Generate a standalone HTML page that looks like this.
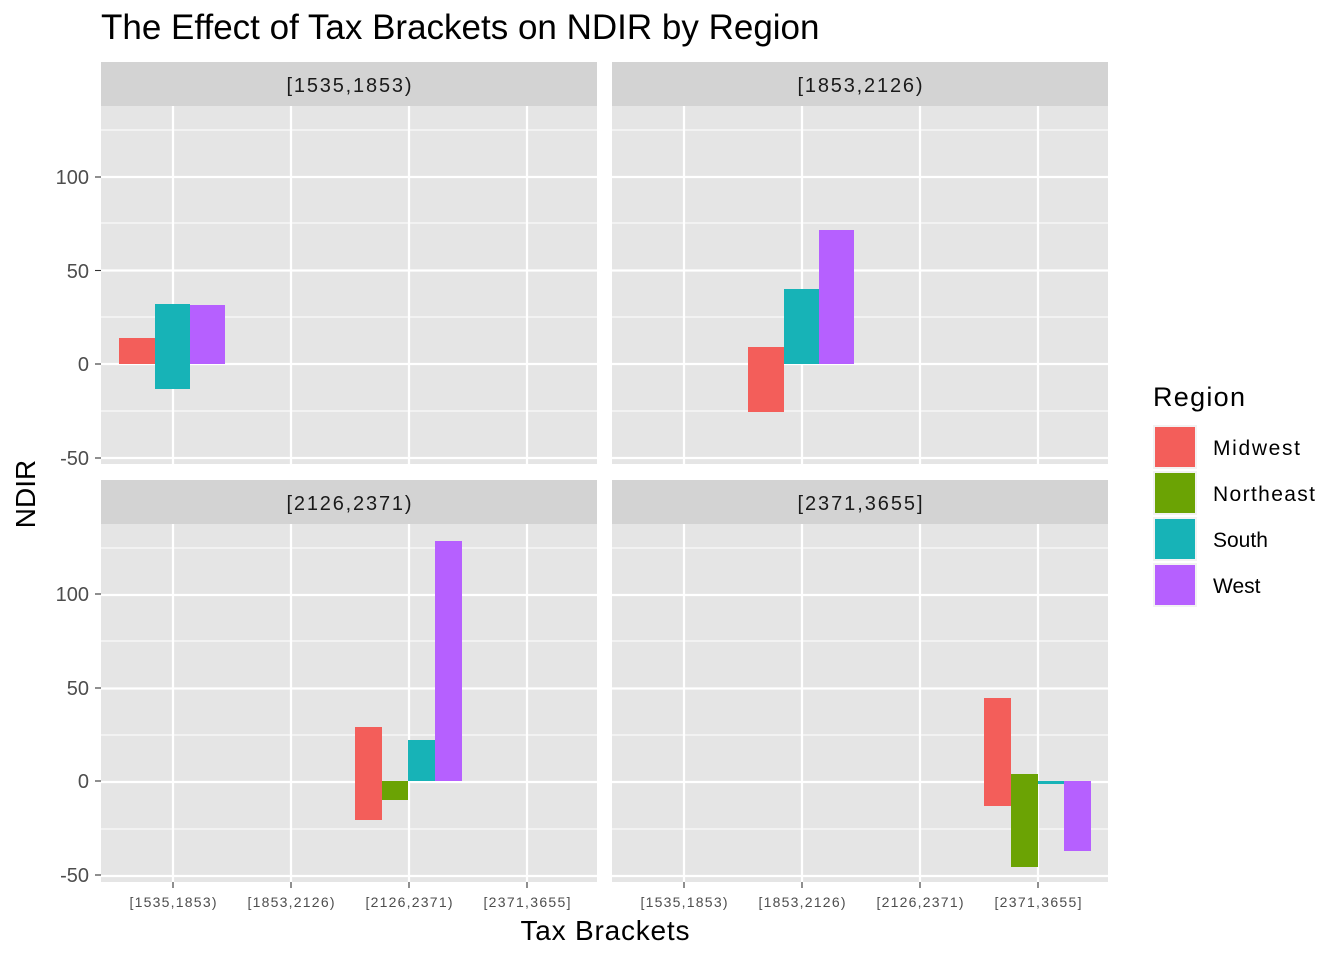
<!DOCTYPE html>
<html><head><style>body{margin:0;background:#fff}svg{display:block}text{font-family:"Liberation Sans",Arial,sans-serif}</style></head><body>
<svg width="1344" height="960" viewBox="0 0 1344 960" xmlns="http://www.w3.org/2000/svg">
<rect width="1344" height="960" fill="#fff"/>
<text x="101" y="39" font-size="35" fill="#000">The Effect of Tax Brackets on NDIR by Region</text>
<defs>
<g id="panel">
<rect x="0" y="44" width="496" height="358" fill="#E5E5E5"/>
<g stroke="#fff" stroke-width="1.1">
<line x1="0" x2="496" y1="68" y2="68"/><line x1="0" x2="496" y1="161" y2="161"/><line x1="0" x2="496" y1="255" y2="255"/><line x1="0" x2="496" y1="349" y2="349"/>
</g>
<g stroke="#fff" stroke-width="2.2">
<line x1="0" x2="496" y1="115" y2="115"/><line x1="0" x2="496" y1="208.5" y2="208.5"/><line x1="0" x2="496" y1="302" y2="302"/><line x1="0" x2="496" y1="396" y2="396"/>
<line x1="72" x2="72" y1="44" y2="402"/><line x1="190" x2="190" y1="44" y2="402"/><line x1="308" x2="308" y1="44" y2="402"/><line x1="426" x2="426" y1="44" y2="402"/>
</g>
<rect x="0" y="0" width="496" height="44" fill="#D3D3D3"/>
</g>
</defs>
<use href="#panel" x="101" y="62"/>
<use href="#panel" x="612" y="62"/>
<use href="#panel" x="101" y="480"/>
<use href="#panel" x="612" y="480"/>
<g font-size="20" fill="#1A1A1A" text-anchor="middle">
<text x="349" y="92" textLength="125">[1535,1853)</text>
<text x="860" y="92" textLength="125">[1853,2126)</text>
<text x="349" y="510" textLength="125">[2126,2371)</text>
<text x="860" y="510" textLength="125">[2371,3655]</text>
</g>
<rect x="119" y="338" width="36" height="26" fill="#F35E5A"/>
<rect x="155" y="304" width="35" height="85" fill="#17B3B7"/>
<rect x="190" y="305" width="35" height="59" fill="#B660FF"/>
<rect x="748" y="347" width="36" height="65" fill="#F35E5A"/>
<rect x="784" y="289" width="35" height="75" fill="#17B3B7"/>
<rect x="819" y="230" width="35" height="134" fill="#B660FF"/>
<rect x="355" y="727" width="27" height="93" fill="#F35E5A"/>
<rect x="382" y="781" width="26" height="19" fill="#6BA304"/>
<rect x="408" y="740" width="27" height="41" fill="#17B3B7"/>
<rect x="435" y="541" width="27" height="240" fill="#B660FF"/>
<rect x="984" y="698" width="27" height="108" fill="#F35E5A"/>
<rect x="1011" y="774" width="27" height="93" fill="#6BA304"/>
<rect x="1038" y="781" width="26" height="3" fill="#17B3B7"/>
<rect x="1064" y="781" width="27" height="70" fill="#B660FF"/>
<g font-size="20" fill="#4D4D4D" text-anchor="end">
<text x="89" y="184">100</text><text x="89" y="278">50</text><text x="89" y="371">0</text><text x="89" y="465">-50</text>
<text x="89" y="601">100</text><text x="89" y="695">50</text><text x="89" y="788">0</text><text x="89" y="882">-50</text>
</g>
<g stroke="#333" stroke-width="1.1">
<line x1="95" x2="101" y1="177" y2="177"/><line x1="95" x2="101" y1="270.5" y2="270.5"/><line x1="95" x2="101" y1="364" y2="364"/><line x1="95" x2="101" y1="458" y2="458"/>
<line x1="95" x2="101" y1="594" y2="594"/><line x1="95" x2="101" y1="688" y2="688"/><line x1="95" x2="101" y1="781" y2="781"/><line x1="95" x2="101" y1="875" y2="875"/>
<line x1="173" x2="173" y1="882" y2="888"/><line x1="291" x2="291" y1="882" y2="888"/><line x1="409" x2="409" y1="882" y2="888"/><line x1="527" x2="527" y1="882" y2="888"/>
<line x1="684" x2="684" y1="882" y2="888"/><line x1="802" x2="802" y1="882" y2="888"/><line x1="920" x2="920" y1="882" y2="888"/><line x1="1038" x2="1038" y1="882" y2="888"/>
</g>
<g font-size="14" fill="#4D4D4D" text-anchor="middle">
<text x="173" y="907" textLength="87">[1535,1853)</text><text x="291" y="907" textLength="87">[1853,2126)</text><text x="409" y="907" textLength="87">[2126,2371)</text><text x="527" y="907" textLength="87">[2371,3655]</text>
<text x="684" y="907" textLength="87">[1535,1853)</text><text x="802" y="907" textLength="87">[1853,2126)</text><text x="920" y="907" textLength="87">[2126,2371)</text><text x="1038" y="907" textLength="87">[2371,3655]</text>
</g>
<text x="605" y="940" font-size="28" text-anchor="middle" fill="#000" textLength="169">Tax Brackets</text>
<text transform="translate(35,494) rotate(-90)" font-size="28" text-anchor="middle" fill="#000">NDIR</text>
<text x="1153" y="406" font-size="27" fill="#000" textLength="92">Region</text>
<rect x="1153" y="425" width="44" height="44" fill="#F2F2F2"/><rect x="1155" y="427" width="40" height="40" fill="#F35E5A"/>
<rect x="1153" y="471" width="44" height="44" fill="#F2F2F2"/><rect x="1155" y="473" width="40" height="40" fill="#6BA304"/>
<rect x="1153" y="517" width="44" height="44" fill="#F2F2F2"/><rect x="1155" y="519" width="40" height="40" fill="#17B3B7"/>
<rect x="1153" y="563" width="44" height="44" fill="#F2F2F2"/><rect x="1155" y="565" width="40" height="40" fill="#B660FF"/>
<g font-size="21" fill="#000">
<text x="1213" y="455" textLength="87">Midwest</text><text x="1213" y="501" textLength="102">Northeast</text><text x="1213" y="547">South</text><text x="1213" y="593">West</text>
</g>
</svg>
</body></html>
